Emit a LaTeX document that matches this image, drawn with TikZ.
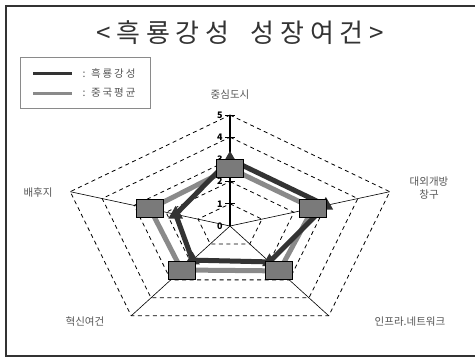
\documentclass[tikz,border=0pt]{standalone}
\usepackage{fontspec}
\setmainfont{Noto Sans CJK KR}
\usetikzlibrary{shapes.geometric}

\definecolor{hljcol}{HTML}{333333}
\definecolor{avgcol}{HTML}{8A8A8A}
\definecolor{sqcol}{HTML}{7A7A7A}
\definecolor{labcol}{HTML}{555555}
\definecolor{framecol}{HTML}{333333}

\tikzset{
  gridline/.style={dash pattern=on 4pt off 3.5pt, line width=0.8pt},
  spoke/.style={line width=0.6pt},
  hljline/.style={line width=5pt, hljcol},
  avgline/.style={line width=5pt, avgcol},
  sqmark/.style={draw=black, line width=1pt, fill=sqcol, minimum width=27pt, minimum height=18pt, inner sep=0pt},
  trimark/.style={regular polygon, regular polygon sides=3, fill=hljcol, minimum size=17pt, inner sep=0pt},
  axislab/.style={text=labcol, font=\fontsize{10.5}{13}\selectfont, align=center},
  leglab/.style={anchor=west, text=labcol, font=\fontsize{10.5}{12}\selectfont\addfontfeature{LetterSpace=18}},
  ticklab/.style={font=\fontsize{9}{9}\selectfont\bfseries, inner sep=0pt}
}

\begin{document}
\begin{tikzpicture}[x=1pt,y=-1pt]
\useasboundingbox (0,0) rectangle (475,357);

% frame
\draw[line width=2pt, framecol] (475,6)--(6,6)--(6,356)--(475,356);

% title
\node[text=framecol, font=\fontsize{26}{30}\selectfont\addfontfeature{LetterSpace=22}] (title) at (240,33) {<흑룡강성\hspace{10pt} 성장여건>};

% legend
\draw[line width=0.8pt, avgcol] (20,57) rectangle (150,108);
\draw[line width=3pt, hljcol] (33,73)--(72,73);
\draw[line width=3pt, avgcol] (33,93)--(72,93);
\node[leglab] (leghlj) at (79,73) {: 흑룡강성};
\node[leglab] (legavg) at (79,93) {: 중국평균};

% axis labels
\node[axislab] (centre) at (230,95) {중심도시};
\node[axislab] (port) at (429,188) {대외개방\\창구};
\node[axislab] (hinter) at (38,193) {배후지};
\node[axislab] (innov) at (85,322) {혁신여건};
\node[axislab] (infra) at (410,322) {인프라.네트워크};

\begin{scope}[shift={(230,226)}, x=33.6pt, y=22.2pt]
\coordinate (O) at (0,0);
\coordinate (top) at (90:5);
\coordinate (right) at (18:5);
\coordinate (bright) at (-54:5);
\coordinate (bleft) at (-126:5);
\coordinate (left) at (162:5);

% grid
\draw[gridline](90:1)--(18:1)--(-54:1)--(-126:1)--(162:1)--cycle;
\draw[gridline](90:2)--(18:2)--(-54:2)--(-126:2)--(162:2)--cycle;
\draw[gridline](90:3)--(18:3)--(-54:3)--(-126:3)--(162:3)--cycle;
\draw[gridline](90:4)--(18:4)--(-54:4)--(-126:4)--(162:4)--cycle;
\draw[gridline](top)--(right)--(bright)--(bleft)--(left)--cycle;

% spokes
\draw[spoke](O)--(right);
\draw[spoke](O)--(bright);
\draw[spoke](O)--(bleft);
\draw[spoke](O)--(left);
\draw[line width=1.2pt](O)--(top);
\draw[line width=0.8pt](-0.15,1)--(0.15,1);
\draw[line width=0.8pt](-0.15,2)--(0.15,2);
\draw[line width=0.8pt](-0.15,3)--(0.15,3);
\draw[line width=0.8pt](-0.15,4)--(0.15,4);
\draw[line width=0.8pt](-0.15,5)--(0.15,5);
\node[ticklab] (t0) at (-0.3,0) {0};
\node[ticklab] (t1) at (-0.3,1) {1};
\node[ticklab] (t2) at (-0.3,2) {2};
\node[ticklab] (t3) at (-0.3,3) {3};
\node[ticklab] (t4) at (-0.3,4) {4};
\node[ticklab] (t5) at (-0.3,5) {5};

% series
\coordinate (a1) at (90:2.6);
\coordinate (a2) at (18:2.6);
\coordinate (a3) at (-54:2.5);
\coordinate (a4) at (-126:2.45);
\coordinate (a5) at (162:2.5);
\coordinate (h1) at (90:3);
\coordinate (h2) at (18:3);
\coordinate (h3) at (-54:2);
\coordinate (h4) at (-126:1.9);
\coordinate (h5) at (162:1.7);
\draw[avgline](a1)--(a2)--(a3)--(a4)--(a5)--cycle;
\draw[hljline](h1)--(h2)--(h3)--(h4)--(h5)--cycle;
\node[trimark] (m1) at (h1) {};
\node[trimark] (m2) at (h2) {};
\node[trimark] (m3) at (h3) {};
\node[trimark] (m4) at (h4) {};
\node[trimark] (m5) at (h5) {};
\node[sqmark] (s1) at (a1) {};
\node[sqmark] (s2) at (a2) {};
\node[sqmark] (s3) at (a3) {};
\node[sqmark] (s4) at (a4) {};
\node[sqmark] (s5) at (a5) {};
\end{scope}

\end{tikzpicture}
\end{document}
